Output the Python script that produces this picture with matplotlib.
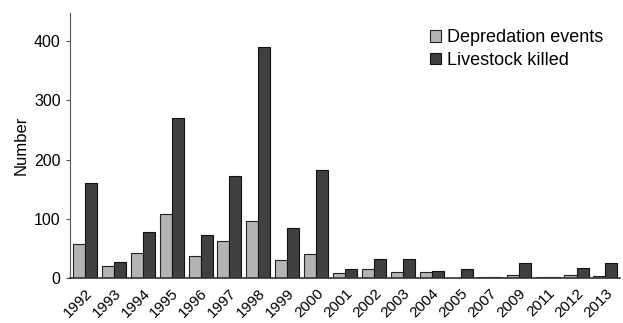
import numpy as np
import matplotlib.pyplot as plt

years = ["1992", "1993", "1994", "1995", "1996", "1997", "1998", "1999", "2000", "2001",
         "2002", "2003", "2004", "2005", "2007", "2009", "2011", "2012", "2013"]
events = [58, 20, 42, 108, 38, 62, 96, 30, 40, 8, 16, 10, 10, 1, 2, 6, 2, 6, 3]
killed = [160, 28, 78, 270, 72, 172, 390, 84, 182, 16, 32, 32, 12, 16, 2, 26, 2, 17, 26]

plt.rcParams["font.family"] = ["Liberation Sans", "DejaVu Sans"]

fig = plt.figure(figsize=(6.23, 3.23), dpi=100)
ax = fig.add_axes([0.112, 0.139, 0.883, 0.82])

x = np.arange(len(years))
w = 0.415
ax.bar(x - w / 2, events, w, color="#b4b4b4", edgecolor="#222222", linewidth=0.8,
       label="Depredation events")
ax.bar(x + w / 2, killed, w, color="#404040", edgecolor="#111111", linewidth=0.8,
       label="Livestock killed")

ax.set_xlim(-0.52, len(years) - 0.5)
ax.set_ylim(0, 447)
ax.set_yticks([0, 100, 200, 300, 400])
ax.set_xticks(x)
ax.set_xticklabels(years, rotation=45, ha="right", rotation_mode="anchor", fontsize=11)
ax.tick_params(axis="x", length=0, pad=6)
ax.tick_params(axis="y", labelsize=11.5, length=3, width=0.8, color="#555555")
ax.set_ylabel("Number", fontsize=12)

for s in ["top", "right"]:
    ax.spines[s].set_visible(False)
ax.spines["left"].set_color("#555555")
ax.spines["bottom"].set_color("#333333")
ax.spines["bottom"].set_linewidth(1.2)

ax.legend(loc="upper right", bbox_to_anchor=(1.0, 1.0), frameon=False, fontsize=13,
          handlelength=0.6, handleheight=0.6, handletextpad=0.35, labelspacing=0.3)

fig.savefig("out.png", dpi=100)
